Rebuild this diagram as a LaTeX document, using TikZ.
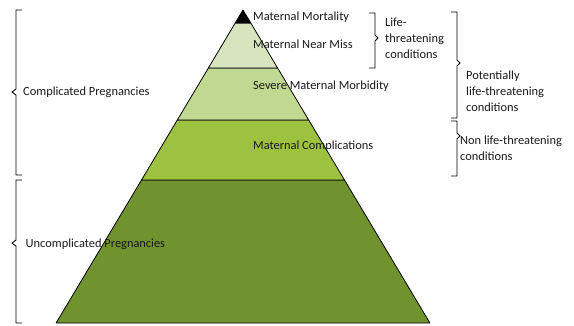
\documentclass[tikz,border=0pt]{standalone}
\usepackage{fontspec}
\setmainfont{Carlito}
\begin{document}
\begin{tikzpicture}[x=1pt,y=-1pt,
  layer/.style={draw=black,line width=0.8pt,line join=round},
  lbl/.style={anchor=west,inner sep=0pt,text=black!90,font=\fontsize{12.4}{16}\selectfont,align=left},
  brace/.style={draw=black,line width=0.9pt}]
\useasboundingbox (0,0) rectangle (574,325);
\definecolor{cA}{HTML}{D7E4BD}
\definecolor{cB}{HTML}{C0D890}
\definecolor{cC}{HTML}{9CC23F}
\definecolor{cD}{HTML}{70932F}
% pyramid layers
\filldraw[layer,fill=cD] (141.5,180) -- (344.5,180) -- (429.9,323) -- (56.1,323) -- cycle;
\filldraw[layer,fill=cC] (177.3,120) -- (308.7,120) -- (344.5,180) -- (141.5,180) -- cycle;
\filldraw[layer,fill=cB] (208.4,68) -- (277.6,68) -- (308.7,120) -- (177.3,120) -- cycle;
\filldraw[layer,fill=cA] (235.2,23) -- (250.8,23) -- (277.6,68) -- (208.4,68) -- cycle;
\filldraw[layer,fill=black] (243,10) -- (250.8,23) -- (235.2,23) -- cycle;
% labels in pyramid
\node[lbl] (mm) at (253,17) {Maternal Mortality};
\node[lbl] (nm) at (253,44) {Maternal Near Miss};
\node[lbl] (smm) at (253,86) {Severe Maternal Morbidity};
\node[lbl] (mc) at (253,146) {Maternal Complications};
% left braces
\draw[brace] (22,10) -- (16,10) -- (16,89) -- (12,92) -- (16,95) -- (16,175) -- (22,175);
\draw[brace] (22,180) -- (16,180) -- (16,240) -- (12,243) -- (16,246) -- (16,323) -- (22,323);
\node[lbl] (cp) at (23,92) {Complicated Pregnancies};
\node[lbl] (up) at (25.5,244) {Uncomplicated Pregnancies};
% right braces
\draw[brace] (369,13) -- (375,13) -- (375,35) -- (378,38) -- (375,41) -- (375,68) -- (369,68);
\draw[brace] (451,12) -- (457,12) -- (457,60) -- (460,63) -- (457,66) -- (457,118) -- (451,118);
\draw[brace] (451,121) -- (457,121) -- (457,133) -- (460,136) -- (457,139) -- (457,176) -- (451,176);
\node[lbl] (ltc) at (385,38) {Life-\\threatening\\conditions};
\node[lbl] (pltc) at (466,91) {Potentially\\life-threatening\\conditions};
\node[lbl] (nltc) at (460,148) {Non life-threatening\\conditions};
\end{tikzpicture}
\end{document}
